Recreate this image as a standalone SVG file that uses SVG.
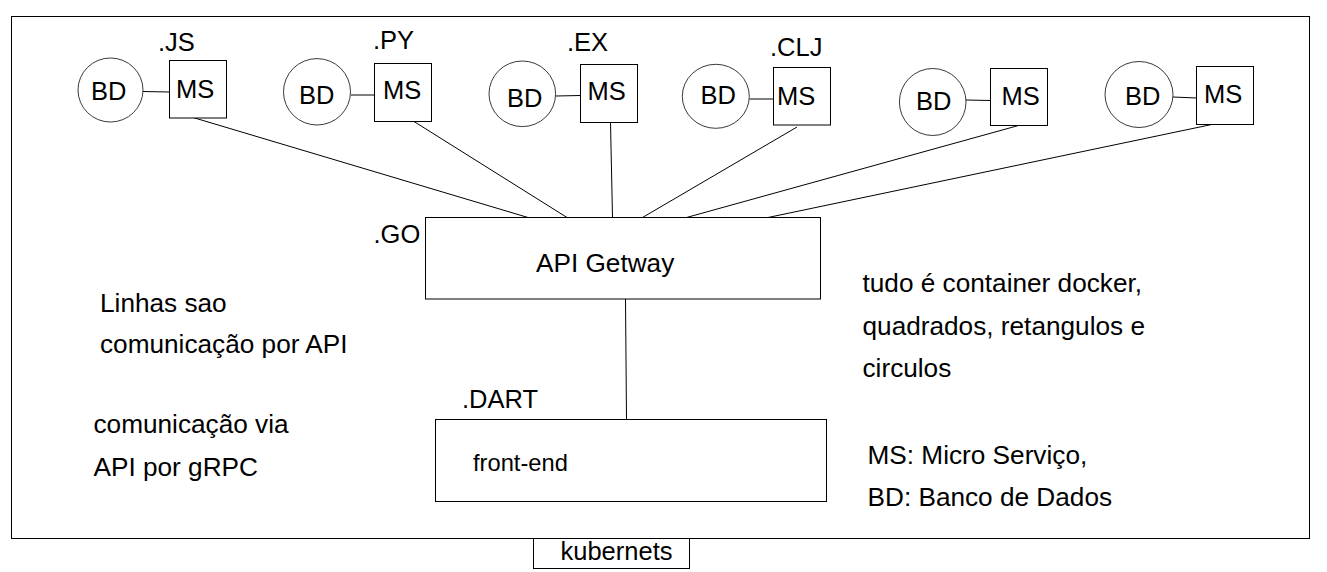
<svg xmlns="http://www.w3.org/2000/svg" width="1327" height="572" viewBox="0 0 1327 572">
<style>
  text { font-family: "Liberation Sans", Arial, sans-serif; font-size: 25.5px; fill: #000; }
  .note { font-size: 26.2px; }
  .box { fill: #fff; stroke: #000; stroke-width: 1; }
  .db { fill: #fff; stroke: #222; stroke-width: 0.9; }
  .ln { stroke: #000; stroke-width: 1; fill: none; }
</style>
<rect width="1327" height="572" fill="#fff"/>
<g id="kubernetes-frame">
  <rect class="box" x="11.5" y="16.5" width="1298" height="522" fill="none"/>
</g>
<g id="connectors">
  <line class="ln" x1="143" y1="91.5" x2="169.5" y2="92"/>
  <line class="ln" x1="351" y1="95" x2="374.5" y2="95"/>
  <line class="ln" x1="556" y1="96" x2="580.5" y2="95.5"/>
  <line class="ln" x1="749.5" y1="99" x2="773.5" y2="99"/>
  <line class="ln" x1="966" y1="100" x2="990.5" y2="100.5"/>
  <line class="ln" x1="1173" y1="97" x2="1196.5" y2="98"/>
  <line class="ln" x1="193" y1="117.5" x2="528" y2="217.5"/>
  <line class="ln" x1="414" y1="121.5" x2="567" y2="217.5"/>
  <line class="ln" x1="610.5" y1="122.5" x2="612.5" y2="217.5"/>
  <line class="ln" x1="797" y1="127" x2="642.5" y2="217.5"/>
  <line class="ln" x1="1018.5" y1="125.5" x2="686.5" y2="217.5"/>
  <line class="ln" x1="1216.5" y1="123.5" x2="768" y2="217.5"/>
  <line class="ln" x1="625.5" y1="299" x2="626.5" y2="420"/>
</g>
<g id="bd-js"><ellipse class="db" cx="110.5" cy="90" rx="32.5" ry="32"/><text x="91" y="99.5">BD</text></g>
<g id="ms-js"><rect class="box" x="169.5" y="60.5" width="57" height="57.5"/><text x="176" y="97.5">MS</text><text x="158" y="50.5">.JS</text></g>
<g id="bd-py"><ellipse class="db" cx="317" cy="91.8" rx="33.5" ry="33.2"/><text x="299" y="103.7">BD</text></g>
<g id="ms-py"><rect class="box" x="374.5" y="63.5" width="57" height="58"/><text x="383" y="99.3">MS</text><text x="373" y="49">.PY</text></g>
<g id="bd-ex"><ellipse class="db" cx="522.3" cy="93.8" rx="33.3" ry="32.8"/><text x="507" y="106.7">BD</text></g>
<g id="ms-ex"><rect class="box" x="580.5" y="64.5" width="57" height="58"/><text x="587.5" y="100">MS</text><text x="567" y="50.7">.EX</text></g>
<g id="bd-clj"><ellipse class="db" cx="715.8" cy="96.3" rx="33.5" ry="32"/><text x="700.5" y="104">BD</text></g>
<g id="ms-clj"><rect class="box" x="773.5" y="67.5" width="57" height="57.5"/><text x="777" y="105">MS</text><text x="770" y="55.7">.CLJ</text></g>
<g id="bd-5"><ellipse class="db" cx="932.7" cy="102" rx="33.3" ry="33.5"/><text x="916" y="110">BD</text></g>
<g id="ms-5"><rect class="box" x="990.5" y="68.5" width="57" height="57"/><text x="1001.5" y="105">MS</text></g>
<g id="bd-6"><ellipse class="db" cx="1139" cy="94.5" rx="34" ry="33"/><text x="1125" y="105">BD</text></g>
<g id="ms-6"><rect class="box" x="1196.5" y="66.5" width="57" height="58"/><text x="1204" y="103.3">MS</text></g>
<g id="gateway"><rect class="box" x="425.5" y="217.5" width="395" height="81.5"/><text x="536" y="271.5" style="font-size:26.2px">API Getway</text><text x="373.5" y="243.3">.GO</text></g>
<g id="frontend"><rect class="box" x="435.5" y="419.5" width="391" height="82"/><text x="473" y="471" style="font-size:23.7px">front-end</text><text x="462" y="408">.DART</text></g>
<g id="kubernets-label"><rect class="box" x="533.5" y="538.5" width="156" height="30"/><text x="560.5" y="560">kubernets</text></g>
<g id="notes">
  <text class="note" x="100" y="312">Linhas sao</text>
  <text class="note" x="100" y="353">comunicação por API</text>
  <text class="note" x="93.5" y="433">comunicação via</text>
  <text class="note" x="93.5" y="476">API por gRPC</text>
  <text class="note" x="862.5" y="292">tudo é container docker,</text>
  <text class="note" x="862.5" y="334.5">quadrados, retangulos e</text>
  <text class="note" x="862.5" y="377">circulos</text>
  <text class="note" x="867.5" y="463.5">MS: Micro Serviço,</text>
  <text class="note" x="867.5" y="506">BD: Banco de Dados</text>
</g>
</svg>
